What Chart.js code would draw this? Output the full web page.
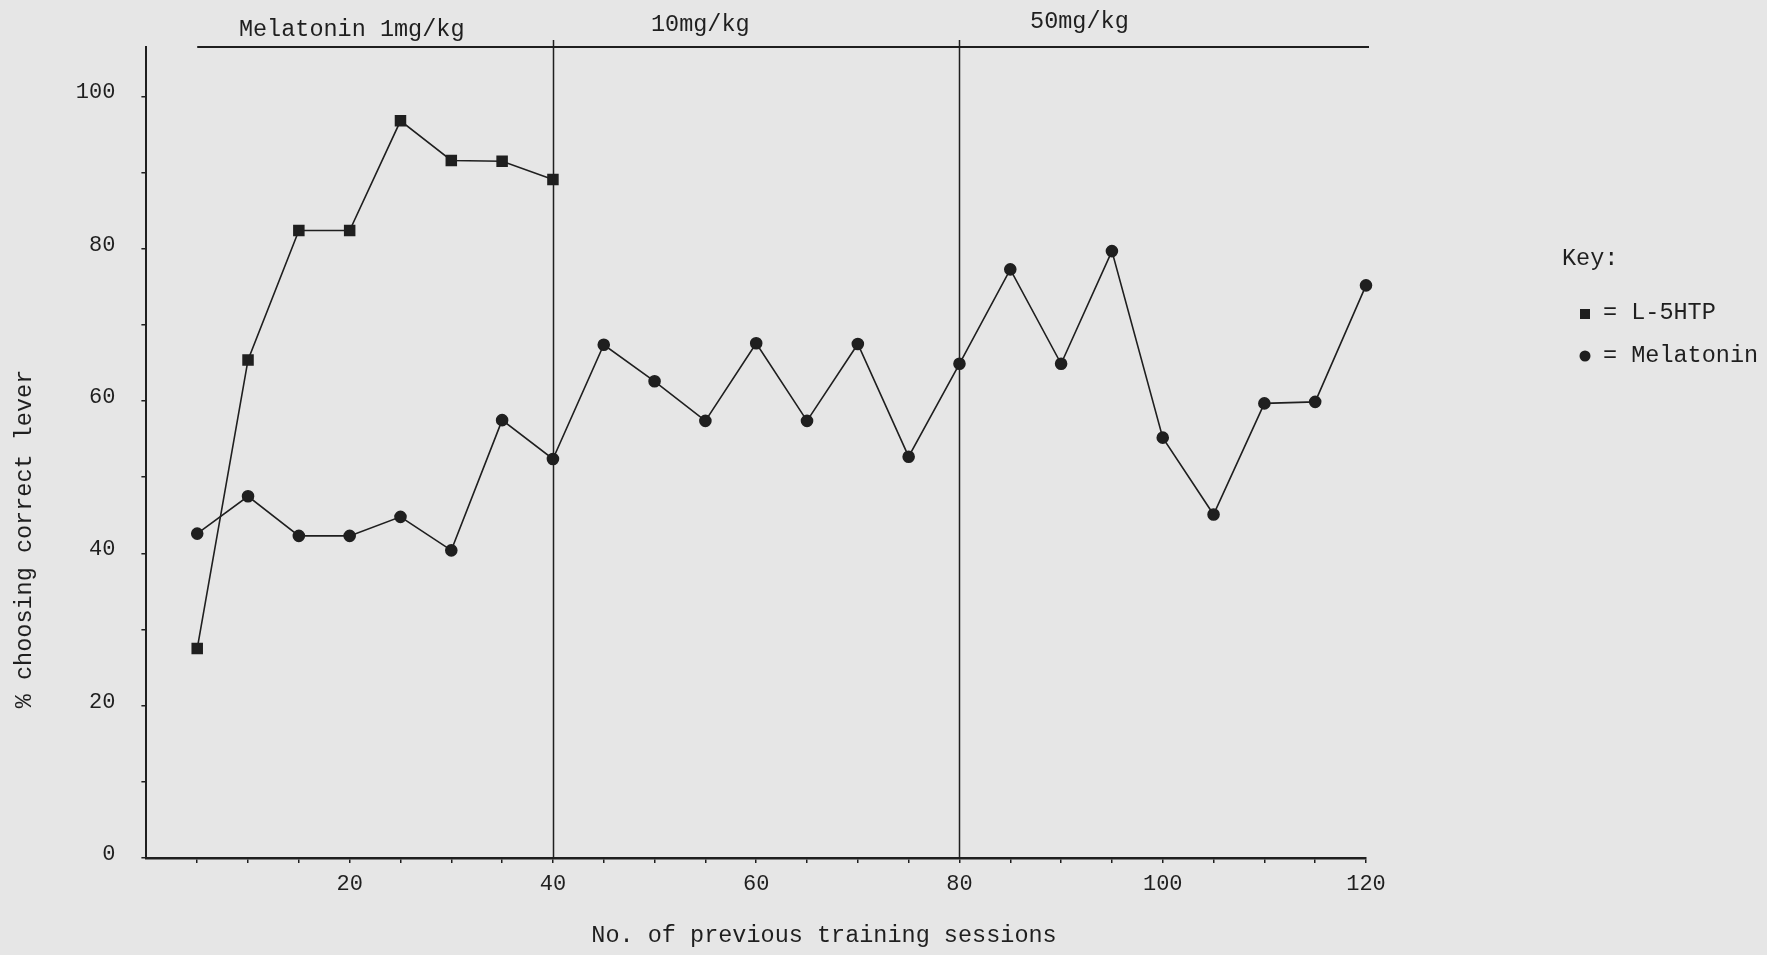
<!DOCTYPE html>
<html>
<head>
<meta charset="utf-8">
<title>Correct lever choice by training session</title>
<script src="https://cdn.jsdelivr.net/npm/chart.js@4/dist/chart.umd.min.js"></script>
<style>
  html, body { margin: 0; padding: 0; background: #e6e6e6; }
  #wrap { width: 1767px; height: 955px; }
</style>
</head>
<body>
<div id="wrap"><canvas id="chart" width="1767" height="955"></canvas></div>
<script>
// Sessions at which the lever choice was scored
const sessions = [5, 10, 15, 20, 25, 30, 35, 40, 45, 50, 55, 60, 65, 70, 75, 80, 85, 90, 95, 100, 105, 110, 115, 120];
// % choosing the correct lever, L-5HTP (first 8 sessions only)
const l5htp = [27.5, 65.4, 82.4, 82.4, 96.8, 91.6, 91.5, 89.1];
// % choosing the correct lever, Melatonin
const melatonin = [42.6, 47.5, 42.3, 42.3, 44.8, 40.4, 57.5, 52.4, 67.4, 62.6, 57.4, 67.6, 57.4, 67.5, 52.7, 64.9, 77.3, 64.9, 79.7, 55.2, 45.1, 59.7, 59.9, 75.2];
// Dose phases: label and session range
const phaseLabels = ['Melatonin 1mg/kg', '10mg/kg', '50mg/kg'];
const phaseBounds = [5, 40, 80, 120];
const phaseLabelAt = [20.2, 54.5, 91.8];
// Axis tick settings
const xTickStep = 5;
const xLabelEvery = 20;
const yTickStep = 10;
const yLabelEvery = 20;

const INK = '#1f1f1f';
const FONT = '"Liberation Mono", "DejaVu Sans Mono", monospace';

const toPoints = (ys) => ys.map((y, i) => ({ x: sessions[i], y }));

// Paper background, dose phase bar, phase dividers, titles and key
const decorations = {
  id: 'decorations',
  beforeDraw(chart) {
    const { ctx, width, height } = chart;
    ctx.save();
    ctx.fillStyle = '#e6e6e6';
    ctx.fillRect(0, 0, width, height);
    ctx.restore();
  },
  afterDraw(chart) {
    const { ctx, scales: { x }, chartArea } = chart;
    ctx.save();
    ctx.strokeStyle = INK;
    ctx.fillStyle = INK;

    // phase bar across the top
    const barY = chartArea.top;
    ctx.lineWidth = 2;
    ctx.beginPath();
    ctx.moveTo(x.getPixelForValue(phaseBounds[0]), barY);
    ctx.lineTo(x.getPixelForValue(phaseBounds[3]) + 3, barY);
    ctx.stroke();

    // dividers between dose phases
    ctx.lineWidth = 1.5;
    [phaseBounds[1], phaseBounds[2]].forEach(v => {
      const px = Math.round(x.getPixelForValue(v)) + 0.5;
      ctx.beginPath();
      ctx.moveTo(px, barY - 7);
      ctx.lineTo(px, chartArea.bottom);
      ctx.stroke();
    });

    // phase labels
    ctx.font = '23.5px ' + FONT;
    ctx.textAlign = 'center';
    ctx.textBaseline = 'middle';
    const labelYs = [30, 25, 22];
    phaseLabels.forEach((t, i) => {
      ctx.fillText(t, x.getPixelForValue(phaseLabelAt[i]), labelYs[i]);
    });

    // axis titles
    ctx.fillText('No. of previous training sessions', 824, 936);
    ctx.save();
    ctx.translate(25, 539);
    ctx.rotate(-Math.PI / 2);
    ctx.fillText('% choosing correct lever', 0, 0);
    ctx.restore();

    // key
    ctx.textAlign = 'left';
    ctx.fillText('Key:', 1562, 259);
    ctx.fillRect(1580, 309, 10, 10);
    ctx.fillText('= L-5HTP', 1603, 313);
    ctx.beginPath();
    ctx.arc(1585, 356, 5.5, 0, Math.PI * 2);
    ctx.fill();
    ctx.fillText('= Melatonin', 1603, 356);
    ctx.restore();
  }
};

new Chart(document.getElementById('chart'), {
  type: 'scatter',
  data: {
    datasets: [
      {
        label: 'L-5HTP',
        data: toPoints(l5htp),
        showLine: true,
        clip: false,
        borderColor: INK,
        borderWidth: 1.6,
        backgroundColor: INK,
        pointStyle: 'rect',
        pointRadius: 7,
        pointHoverRadius: 7,
        tension: 0
      },
      {
        label: 'Melatonin',
        data: toPoints(melatonin),
        showLine: true,
        clip: false,
        borderColor: INK,
        borderWidth: 1.6,
        backgroundColor: INK,
        pointStyle: 'circle',
        pointRadius: 5.5,
        pointHoverRadius: 5.5,
        tension: 0
      }
    ]
  },
  options: {
    responsive: false,
    devicePixelRatio: 1,
    animation: false,
    layout: { padding: { top: 47, right: 401, bottom: 0, left: 0 } },
    plugins: {
      legend: { display: false },
      tooltip: { enabled: false }
    },
    scales: {
      x: {
        type: 'linear',
        min: 0,
        max: 120,
        afterFit: (s) => { s.height = 97; },
        border: { display: true, color: INK, width: 2.5 },
        grid: {
          display: true,
          drawOnChartArea: false,
          drawTicks: true,
          tickLength: 5,
          color: (c) => (c.tick && c.tick.value === 0) ? 'rgba(0,0,0,0)' : INK,
          lineWidth: 1.5
        },
        ticks: {
          stepSize: xTickStep,
          autoSkip: false,
          maxRotation: 0,
          padding: 8,
          color: INK,
          font: { family: FONT, size: 22 },
          callback: (v) => (v > 0 && v % xLabelEvery === 0) ? String(v) : ''
        }
      },
      y: {
        type: 'linear',
        min: 0,
        max: 106.5,
        afterFit: (s) => { s.width = 146.4; },
        border: { display: true, color: INK, width: 2 },
        grid: { display: true, drawOnChartArea: false, drawTicks: true, tickLength: 5, color: INK, lineWidth: 1.5 },
        ticks: {
          stepSize: yTickStep,
          includeBounds: false,
          autoSkip: false,
          padding: 26,
          labelOffset: -4,
          color: INK,
          font: { family: FONT, size: 22 },
          callback: (v) => (v % yLabelEvery === 0) ? String(v) : ''
        }
      }
    }
  },
  plugins: [decorations]
});
</script>
</body>
</html>
